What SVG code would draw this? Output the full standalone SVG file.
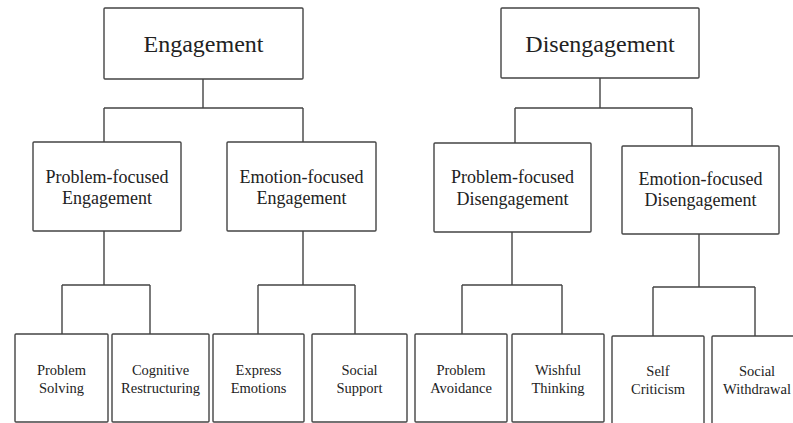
<svg xmlns="http://www.w3.org/2000/svg" width="793" height="423" viewBox="0 0 793 423">
<style>
.box{fill:#fff;stroke:#444;stroke-width:1.4}
.ln{fill:none;stroke:#444;stroke-width:1.4}
text{font-family:"Liberation Serif","Times New Roman",serif;fill:#222;text-anchor:middle}
.t1{font-size:24px}
.t2{font-size:18px}
.t3{font-size:14.5px}
</style>
<rect width="793" height="423" fill="#fff"/>
<g id="connectors">
<path class="ln" d="M203,79V108M104,108H303M104,108V142M303,108V142"/>
<path class="ln" d="M104,231V285M62,285H150M62,285V334M150,285V334"/>
<path class="ln" d="M303,231V285M258,285H355M258,285V334M355,285V334"/>
<path class="ln" d="M600,78V108M515,108H692M515,108V143M692,108V146"/>
<path class="ln" d="M512,232V285M462,285H562M462,285V334M562,285V334"/>
<path class="ln" d="M699,234V287M653,287H755M653,287V336M755,287V336"/>
</g>
<g id="engagement"><rect class="box" x="104" y="8" width="199" height="71" rx="1"/><text class="t1" x="203.5" y="52">Engagement</text></g>
<g id="disengagement"><rect class="box" x="501" y="8" width="198" height="70" rx="1"/><text class="t1" x="600" y="52">Disengagement</text></g>
<g id="pfe"><rect class="box" x="33" y="142" width="148" height="89" rx="1"/><text class="t2" x="107" y="183">Problem-focused</text><text class="t2" x="107" y="204">Engagement</text></g>
<g id="efe"><rect class="box" x="227" y="142" width="149" height="89" rx="1"/><text class="t2" x="301.5" y="183">Emotion-focused</text><text class="t2" x="301.5" y="204">Engagement</text></g>
<g id="pfd"><rect class="box" x="434" y="143" width="157" height="89" rx="1"/><text class="t2" x="512.5" y="183">Problem-focused</text><text class="t2" x="512.5" y="205">Disengagement</text></g>
<g id="efd"><rect class="box" x="622" y="146" width="157" height="88" rx="1"/><text class="t2" x="700.5" y="185">Emotion-focused</text><text class="t2" x="700.5" y="206">Disengagement</text></g>
<g id="problem-solving"><rect class="box" x="15" y="334" width="93" height="88" rx="1"/><text class="t3" x="61.5" y="375">Problem</text><text class="t3" x="61.5" y="393">Solving</text></g>
<g id="cognitive-restructuring"><rect class="box" x="112" y="334" width="97" height="88" rx="1"/><text class="t3" x="160.5" y="375">Cognitive</text><text class="t3" x="160.5" y="393">Restructuring</text></g>
<g id="express-emotions"><rect class="box" x="213" y="334" width="91" height="88" rx="1"/><text class="t3" x="258.5" y="375">Express</text><text class="t3" x="258.5" y="393">Emotions</text></g>
<g id="social-support"><rect class="box" x="312" y="334" width="95" height="88" rx="1"/><text class="t3" x="359.5" y="375">Social</text><text class="t3" x="359.5" y="393">Support</text></g>
<g id="problem-avoidance"><rect class="box" x="415" y="334" width="92" height="88" rx="1"/><text class="t3" x="461" y="375">Problem</text><text class="t3" x="461" y="393">Avoidance</text></g>
<g id="wishful-thinking"><rect class="box" x="512" y="334" width="92" height="88" rx="1"/><text class="t3" x="558" y="375">Wishful</text><text class="t3" x="558" y="393">Thinking</text></g>
<g id="self-criticism"><rect class="box" x="612" y="336" width="92" height="88" rx="1"/><text class="t3" x="658" y="376">Self</text><text class="t3" x="658" y="394">Criticism</text></g>
<g id="social-withdrawal"><rect class="box" x="712" y="336" width="92" height="88" rx="1"/><text class="t3" x="757" y="376">Social</text><text class="t3" x="757" y="394">Withdrawal</text></g>
</svg>
